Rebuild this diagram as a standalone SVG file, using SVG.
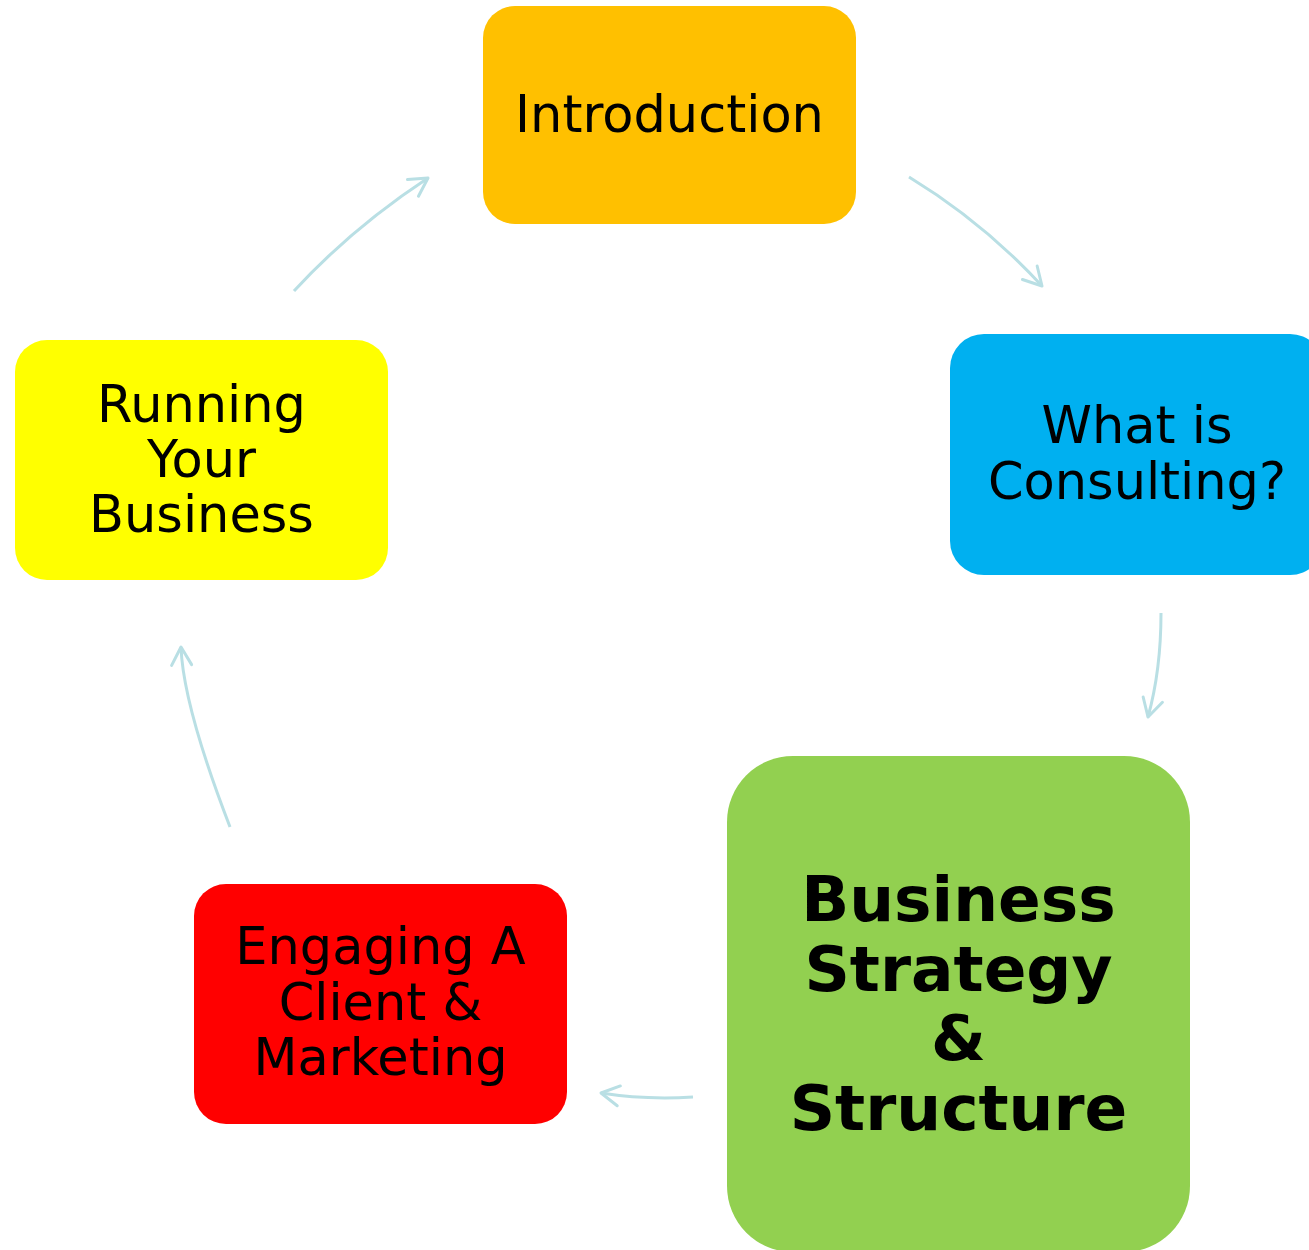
<svg xmlns="http://www.w3.org/2000/svg" width="1309" height="1250" viewBox="0 0 1309 1250">
  <defs>
    <style>
      .lbl { font-family: "DejaVu Sans", Verdana, sans-serif; font-size: 51px; fill: #000; text-anchor: middle; }
      .big { font-family: "DejaVu Sans", Verdana, sans-serif; font-size: 63px; font-weight: bold; fill: #000; text-anchor: middle; }
      .conn { fill: none; stroke: #B9DFE4; stroke-width: 3; marker-end: url(#arr); }
    </style>
    <marker id="arr" markerUnits="userSpaceOnUse" viewBox="-22 -14 26 28" refX="0" refY="0" markerWidth="26" markerHeight="28" orient="auto" overflow="visible">
      <path d="M -18 -10 L 0 0 L -18 10" fill="none" stroke="#B9DFE4" stroke-width="3" stroke-linecap="round" stroke-linejoin="round"/>
    </marker>
  </defs>
  <rect width="1309" height="1250" fill="#ffffff"/>

  <g id="connectors">
    <path class="conn" d="M 909 177 Q 983 222 1042 286"/>
    <path class="conn" d="M 1161 613 Q 1161 670 1148 717"/>
    <path class="conn" d="M 693 1097 Q 645 1100 601 1093"/>
    <path class="conn" d="M 230 827 Q 183 705 181 647"/>
    <path class="conn" d="M 294 291 Q 352 228 428 178"/>
  </g>

  <g id="introduction">
    <rect x="483" y="6" width="373" height="218" rx="32" ry="32" fill="#FFC000"/>
    <text class="lbl" x="669.5" y="132">Introduction</text>
  </g>

  <g id="what-is-consulting">
    <rect x="950" y="334" width="374" height="241" rx="34" ry="34" fill="#00B0F0"/>
    <text class="lbl" x="1137" y="443">What is</text>
    <text class="lbl" x="1137" y="499">Consulting?</text>
  </g>

  <g id="business-strategy">
    <rect x="727" y="756" width="463" height="496" rx="66" ry="66" fill="#92D050"/>
    <text class="big" x="958.5" y="921">Business</text>
    <text class="big" x="958.5" y="991">Strategy</text>
    <text class="big" x="958.5" y="1060">&amp;</text>
    <text class="big" x="958.5" y="1130">Structure</text>
  </g>

  <g id="engaging-client">
    <rect x="194" y="884" width="373" height="240" rx="32" ry="32" fill="#FF0000"/>
    <text class="lbl" x="380.5" y="964">Engaging A</text>
    <text class="lbl" x="380.5" y="1020">Client &amp;</text>
    <text class="lbl" x="380.5" y="1075">Marketing</text>
  </g>

  <g id="running-business">
    <rect x="15" y="340" width="373" height="240" rx="32" ry="32" fill="#FFFF00"/>
    <text class="lbl" x="201.5" y="422">Running</text>
    <text class="lbl" x="201.5" y="477">Your</text>
    <text class="lbl" x="201.5" y="532">Business</text>
  </g>
</svg>
